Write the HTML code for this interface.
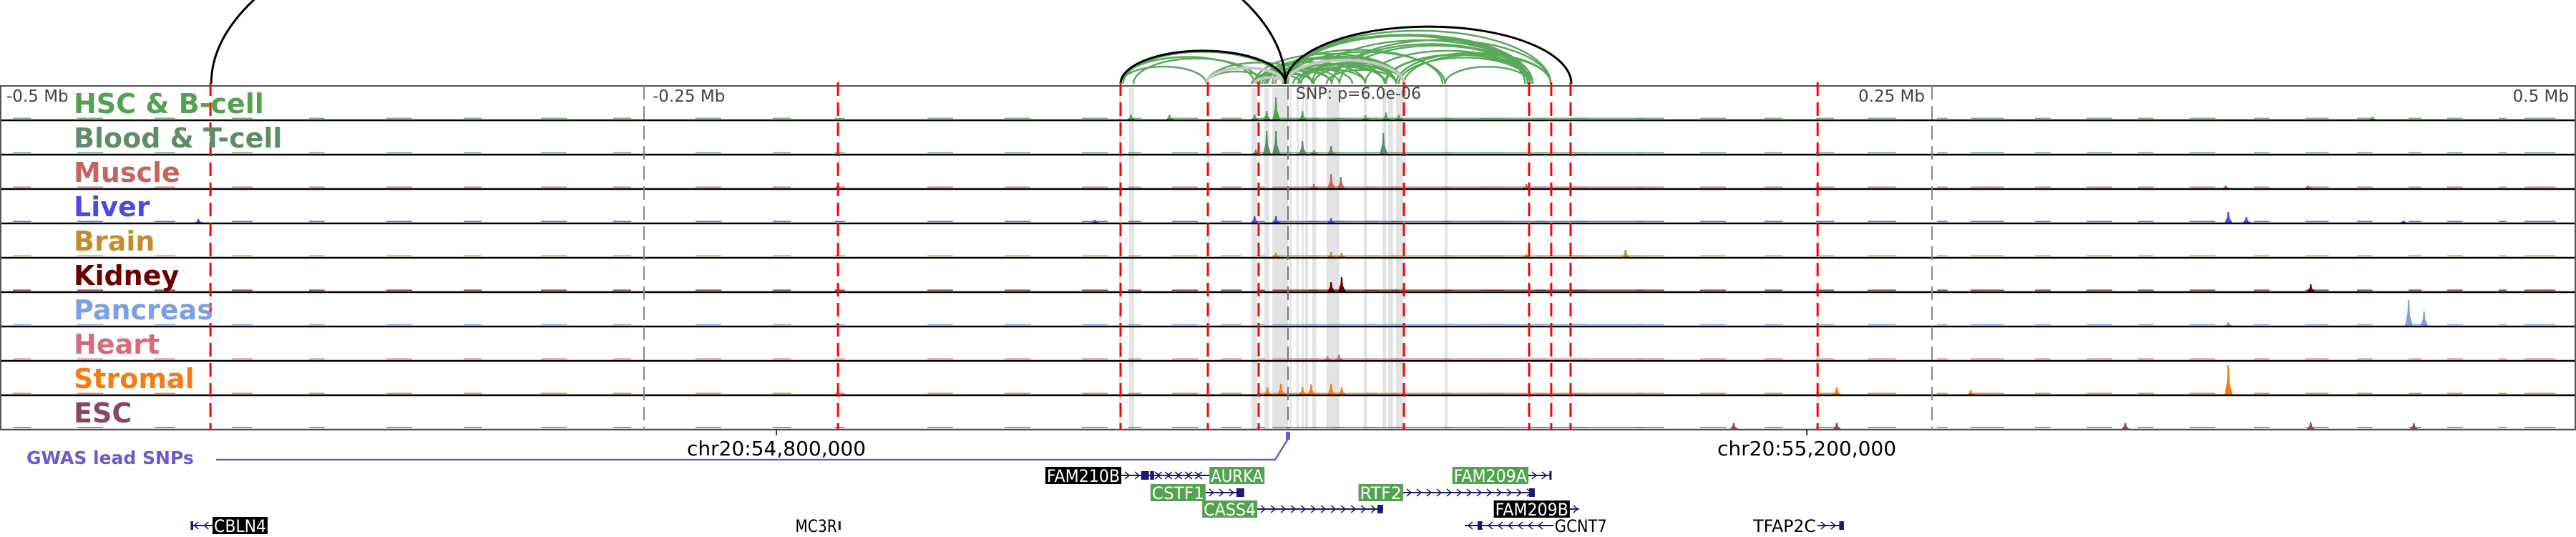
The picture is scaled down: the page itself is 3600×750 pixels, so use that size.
<!DOCTYPE html>
<html><head><meta charset="utf-8"><style>
html,body{margin:0;padding:0;background:#fff;}
svg{display:block;font-family:"DejaVu Sans","Liberation Sans",sans-serif;}
</style></head><body>
<svg id="chart" width="3600" height="750" viewBox="0 0 3600 750" xmlns="http://www.w3.org/2000/svg">
<g id="shade"></g>
<g id="arcs"></g>
<g id="tracks"></g>
<g id="vlines"></g>
<g id="labels"></g>
<g id="bottom"></g>
</svg>
<script>
// ---- data (genomic kb relative to lead SNP) ----
const trackNames = ["HSC & B-cell","Blood & T-cell","Muscle","Liver","Brain","Kidney","Pancreas","Heart","Stromal","ESC"];
const trackColors = ["#52a24f","#5e8c66","#c4655e","#4b4be3","#c38d2a","#6a0000","#7f9fe0","#d56b7d","#f57b12","#8a4565"];
const redLines = [-418.3,-174.7,-65,-31.1,-11.4,45,93.6,102.2,109.7,205.6];
const mbTicks = [-250,0,250];
const shadeStarts = [-65.5,-61.7,-14.2,-9.2,-6.1,0.6,3.3,5.3,6.7,9.4,15,29.4,36.7,38.9,41.9,60.8];
const shadeEnds   = [-64.7,-59.7,-12,-7.2,0,1.4,4.2,6.1,7.8,10.9,20,30.6,38.1,40.8,44.7,61.9];
const arcsBlack = [[-418,-1],[-65,-1],[-1,110]];
const arcsGray = [[-31.7,-1],[-13,-1],[-1,45]];
const arcsGreen = [[-65,-1],[-64,-2],[-65,-31.7],[-60,-11],[-65,-13],[-31.7,-1],[-31.7,9.4],[-13,17],[-11,37.5],[-8,42],[-1,94],[-2,93],[0,95],[-1,92],[-1,102],[-13,45],[-8,45],[4,45],[9.4,94],[17,94],[20,94],[37.5,94],[38,95],[42,102],[43,94],[61,94],[17,102],[-8,17],[-1,37.5],[4,42],[-31.7,-8],[-13,9.4],[30,94],[45,102],[-1,61],[-6,60],[-12,30],[-10,20],[-5,25],[2,30],[5,38],[-14,5],[-9,10],[10,45],[15,42]];
const bgStarts = [-495,-470,-440,-410,-380,-350,-320,-290,-262,-230,-200,-176,-140,-110,-80,-62,-45,-26,-12,-6,8,18,30,40,60,75,96,110,135,160,185,205,225,252,265,290,310,330,350,375,395,415,435,450,470,480];
const bgEnds   = [-488,-460,-432,-402,-374,-340,-313,-280,-255,-220,-193,-172,-130,-100,-70,-57,-35,-18,-9,12,22,35,43,64,84,100,116,138,146,170,192,212,236,256,278,296,320,336,360,381,404,421,440,456,473,492];
const peakPos = [
 [-4.7,-8.3,5.6,-13,-46,-61,30,38,43,421],
 [-8.3,-4.7,5.6,37,16.7,-12.5,10],
 [16.7,20.5,10,92.5,364,396],
 [-4.7,-13,16.7,-75,-423,365,372,433],
 [16.7,20.8,-4.7,131,92.5],
 [20.8,16.7,397],
 [435,441,365],
 [19.7,15.3],
 [-8,-2.8,5.6,8.9,16.7,20.8,365,213,265],
 [397,437,325,173,213]];
const peakHeights = [
 [31,12,12,7,7,7,6,10,7,4],
 [32,32,18,29,11,6,5],
 [20,16,6,6,4,4],
 [9,9,6,4,5,15,8,3],
 [7,6,6,10,4],
 [20,13,10],
 [36,20,5],
 [8,6],
 [10,15,10,14,15,10,41,10,6],
 [9,8,8,8,8]];
const geneRows = [664,688,711,734];
const genes = [
 {name:"FAM210B",row:0,s:-64.7,e:-30.5,lab:"left",bg:"#000",exons:[[-57,-54],[-53.5,-52]],dir:1},
 {name:"AURKA",row:0,s:-52,e:-30.5,lab:"right",bg:"#52a24f",exons:[],dir:-1},
 {name:"FAM209A",row:0,s:93.3,e:102.2,lab:"left",bg:"#52a24f",exons:[[101.5,102.2]],dir:1},
 {name:"CSTF1",row:1,s:-32,e:-17,lab:"left",bg:"#52a24f",exons:[[-20,-17]],dir:1},
 {name:"RTF2",row:1,s:44.7,e:95.8,lab:"left",bg:"#52a24f",exons:[[93.6,95.8]],dir:1},
 {name:"CASS4",row:2,s:-11.9,e:36.9,lab:"left",bg:"#52a24f",exons:[[34.7,36.9]],dir:1},
 {name:"FAM209B",row:2,s:109.4,e:113,lab:"left",bg:"#000",exons:[],dir:1},
 {name:"GCNT7",row:3,s:68.6,e:103,lab:"right",bg:null,exons:[[73.6,75.3]],dir:-1},
 {name:"CBLN4",row:3,s:-426,e:-417.5,lab:"right",bg:"#000",exons:[[-426,-425]],dir:-1},
 {name:"MC3R",row:3,s:-174.5,e:-173.8,lab:"left",bg:null,exons:[[-174.5,-173.8]],dir:1},
 {name:"TFAP2C",row:3,s:205.5,e:215.8,lab:"left",bg:null,exons:[[214,215.8]],dir:1}];
const coordLabels = ["chr20:54,800,000","chr20:55,200,000"];
const coordKb = [-198.6,201.4];

// ---- scales ----
const NS="http://www.w3.org/2000/svg";
const X = kb => 1800 + kb*3.6;
const TOP=120, TH=48;
function mk(tag, attrs, parent){const el=document.createElementNS(NS,tag);for(const k in attrs)el.setAttribute(k,attrs[k]);parent.appendChild(el);return el;}
const gShade=document.getElementById('shade'),gArcs=document.getElementById('arcs'),gTracks=document.getElementById('tracks'),gV=document.getElementById('vlines'),gL=document.getElementById('labels'),gB=document.getElementById('bottom');

shadeStarts.forEach((s,i)=>{
  const r=mk('rect',{x:X(s),y:123,width:Math.max(2,X(shadeEnds[i])-X(s)),height:477,fill:"#e3e3e3"},gShade);
  
  
});

function arc(a,color,w){
  const x1=X(a[0]),x2=X(a[1]),rx=(x2-x1)/2,ry=0.2*(x2-x1);
  const p=mk('path',{d:`M${x1},117 A${rx},${ry} 0 0 1 ${x2},117`,fill:"none",stroke:color,"stroke-width":w},gArcs);
  
  
}
arcsGreen.forEach(a=>arc(a,"#5aa85a",2.5));
arcsGray.forEach(a=>arc(a,"#c8c8c8",4));
arcsBlack.forEach(a=>arc(a,"#000",3));

trackNames.forEach((n,t)=>{
  const base=TOP+TH*(t+1)-1, col=trackColors[t];
  const g=mk('g',{},gTracks);
  
  
  bgStarts.forEach((s,i)=>{
    const r=mk('rect',{x:X(s),y:base-2.5,width:X(bgEnds[i])-X(s),height:1.5,fill:col,opacity:0.8},g);
    
    
  });
  peakPos[t].forEach((p,i)=>{
    const h=peakHeights[t][i];
    const poly=mk('polygon',{points:`${X(p)-5},${base} ${X(p)-1.5},${base-h*0.5} ${X(p)-1},${base-h} ${X(p)+1},${base-h} ${X(p)+2},${base-h*0.4} ${X(p)+6},${base}`,fill:col},g);
    
    
  });
  const ln=mk('line',{x1:0,x2:3600,y1:base+1,y2:base+1,stroke:t==9?"#555":"#000","stroke-width":2.5},g);
  
  
  const tx=mk('text',{x:103,y:TOP+TH*t+38,fill:col,"font-size":38,"font-weight":"bold"},gL);
  tx.textContent=n;
  
  
});
const fr=mk('rect',{x:1,y:TOP,width:3598,height:480,fill:"none",stroke:"#555","stroke-width":2},gTracks);



redLines.forEach(k=>{
  const l=mk('line',{x1:X(k),x2:X(k),y1:115,y2:600,stroke:"#f00","stroke-width":3,"stroke-dasharray":"19 9"},gV);
  
  
});
mbTicks.forEach(k=>{
  const l=mk('line',{x1:X(k),x2:X(k),y1:120,y2:600,stroke:k==0?"#777":"#888","stroke-width":2,"stroke-dasharray":"19 9"},gV);
  
  
});
const mbText=[["-0.5 Mb",9,"start"],["-0.25 Mb",X(-250)+12,"start"],["0.25 Mb",X(250)-10,"end"],["0.5 Mb",3590,"end"],["SNP: p=6.0e-06",1811,"start"]];
mbText.forEach(m=>{
  const t=mk('text',{x:m[1],y:m[0].startsWith("SNP")?138:142,fill:"#444","font-size":m[0].startsWith("SNP")?22:23,"text-anchor":m[2]},gL);
  t.textContent=m[0];
  
  
});

coordLabels.forEach((c,i)=>{
  const x=X(coordKb[i]);
  const tk=mk('line',{x1:x,x2:x,y1:600,y2:608,stroke:"#000","stroke-width":1.5},gB);
  
  
  const t=mk('text',{x:x,y:636,"font-size":28,"text-anchor":"middle",fill:"#000"},gB);
  t.textContent=c;
  
  
});
const gw=mk('text',{x:37,y:648,"font-size":25,"font-weight":"bold",fill:"#6a5acd"},gB);
gw.textContent="GWAS lead SNPs";


const gp=mk('polyline',{points:`302,642 ${X(-5)},642 ${X(0)},613`,fill:"none",stroke:"#6a5acd","stroke-width":2.5},gB);


const gm=mk('rect',{x:X(0)-3,y:603,width:6,height:11,fill:"#6a5acd"},gB);



genes.forEach(gn=>{
  const y=geneRows[gn.row], x1=X(gn.s), x2=X(gn.e);
  const g=mk('g',{},gB);
  
  
  mk('line',{x1:x1,x2:x2,y1:y,y2:y,stroke:"#1a1a6e","stroke-width":2},g);
  for(let x=x1+8;x<x2-4;x+=14){
    const d=gn.dir>0?`M${x-3},${y-5} L${x+3},${y} L${x-3},${y+5}`:`M${x+3},${y-5} L${x-3},${y} L${x+3},${y+5}`;
    mk('path',{d:d,fill:"none",stroke:"#1a1a6e","stroke-width":1.5},g);
  }
  gn.exons.forEach(e=>mk('rect',{x:X(e[0]),y:y-6,width:Math.max(3,X(e[1])-X(e[0])),height:12,fill:"#1a1a6e"},g));
  const w=gn.name.length*14.6+4;
  const lx=gn.lab=="left"?x1-w:x2;
  if(gn.bg) mk('rect',{x:lx,y:y-12,width:w,height:24,fill:gn.bg},g);
  const t=mk('text',{x:lx+2,y:y+9,"font-size":24,textLength:w-4,lengthAdjust:"spacingAndGlyphs",fill:gn.bg?"#fff":"#000"},g);
  t.textContent=gn.name;
});
</script>
</body></html>
